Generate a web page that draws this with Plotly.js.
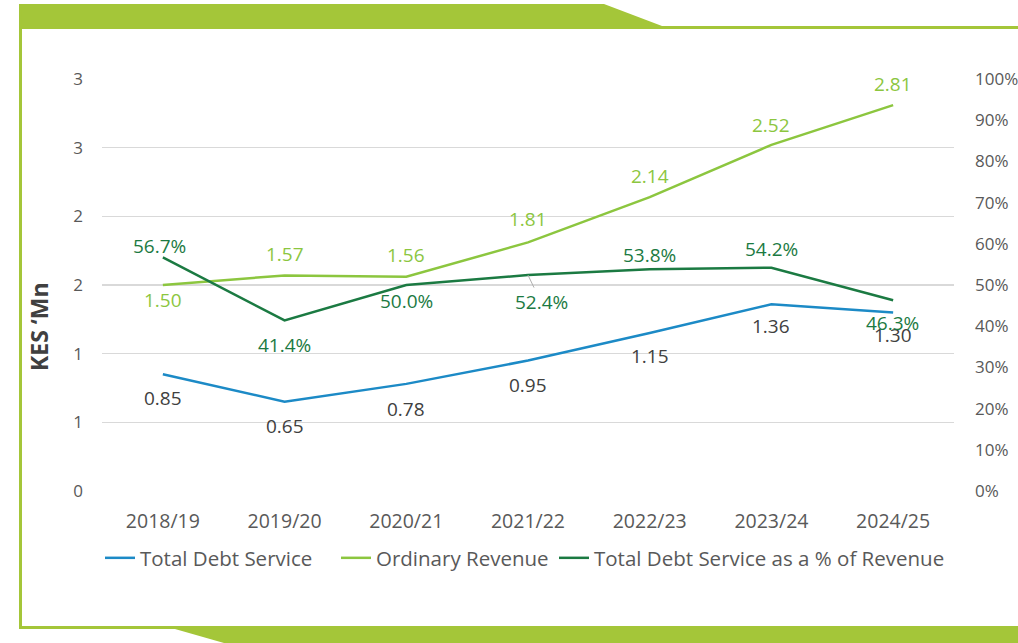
<!DOCTYPE html>
<html>
<head>
<meta charset="utf-8">
<script src="https://cdn.plot.ly/plotly-3.0.1.min.js"></script>
<style>html,body{margin:0;padding:0;background:#fff;}#chart{width:1018px;height:643px;}</style>
</head>
<body>
<div id="chart"></div>
<script>
const years = ["2018/19","2019/20","2020/21","2021/22","2022/23","2023/24","2024/25"];
const totalDebtService = [0.85, 0.65, 0.78, 0.95, 1.15, 1.36, 1.30];
const ordinaryRevenue = [1.50, 1.57, 1.56, 1.81, 2.14, 2.52, 2.81];
const debtServicePct = [56.7, 41.4, 50.0, 52.4, 53.8, 54.2, 46.3];
const leftTickVals = [0, 0.5, 1, 1.5, 2, 2.5, 3];
const leftTickText = ["0", "1", "1", "2", "2", "3", "3"];
const rightTickVals = [0, 10, 20, 30, 40, 50, 60, 70, 80, 90, 100];
const rightTickText = ["0%", "10%", "20%", "30%", "40%", "50%", "60%", "70%", "80%", "90%", "100%"];

const W = 1018, H = 643;
const M = {l: 102, r: 64, t: 79, b: 152};
const PW = W - M.l - M.r, PH = H - M.t - M.b;
const px = x => (x - M.l) / PW;
const py = y => (H - M.b - y) / PH;
function path(pts) {
  return pts.map((p, i) => (i ? "L" : "M") + px(p[0]).toFixed(5) + "," + py(p[1]).toFixed(5)).join(" ") + " Z";
}

const blue = "#1c8ac6", lgreen = "#8cc63f", dgreen = "#1b7a42", frame = "#a4c639";
const font = "Open Sans, sans-serif";

// label placement (style): pixel shifts of each data label from its point
const blueShiftY = [-24, -24, -25, -24, -23, -22, -23];
const lgreenShiftY = [-15, 21, 22, 23, 21, 20, 21];
const dgreenShiftY = [11, -25, -16, -27, 14, 19, -23];
const dgreenShiftX = [-3, 0, 0, 13, 0, 0, -1];

const traces = [
  {x: years, y: totalDebtService, name: "Total Debt Service", type: "scatter", mode: "lines",
   line: {color: blue, width: 2.5}, legend: "legend"},
  {x: years, y: ordinaryRevenue, name: "Ordinary Revenue", type: "scatter", mode: "lines",
   line: {color: lgreen, width: 2.5}, legend: "legend2"},
  {x: years, y: debtServicePct, name: "Total Debt Service as a % of Revenue", type: "scatter", mode: "lines",
   yaxis: "y2", line: {color: dgreen, width: 2.5}, legend: "legend3"}
];

const annotations = [];
years.forEach((yr, i) => {
  annotations.push({x: yr, y: totalDebtService[i], xref: "x", yref: "y", text: totalDebtService[i].toFixed(2),
    showarrow: false, yshift: blueShiftY[i], xanchor: "center", yanchor: "middle",
    font: {family: font, size: 19, color: "#404040"}});
  annotations.push({x: yr, y: ordinaryRevenue[i], xref: "x", yref: "y", text: ordinaryRevenue[i].toFixed(2),
    showarrow: false, yshift: lgreenShiftY[i], xanchor: "center", yanchor: "middle",
    font: {family: font, size: 19, color: lgreen}});
  const a = {x: yr, y: debtServicePct[i], xref: "x", yref: "y2", text: debtServicePct[i].toFixed(1) + "%",
    xanchor: "center", yanchor: "middle", font: {family: font, size: 19, color: dgreen}};
  if (i === 3) {
    Object.assign(a, {showarrow: true, arrowhead: 0, arrowwidth: 1, arrowcolor: "#b0b0b0",
      ax: dgreenShiftX[i], ay: -dgreenShiftY[i], standoff: 0, startstandoff: 0});
  } else {
    Object.assign(a, {showarrow: false, yshift: dgreenShiftY[i], xshift: dgreenShiftX[i]});
  }
  annotations.push(a);
});
annotations.push({text: "<b>KES ‘Mn</b>", xref: "paper", yref: "paper", x: px(39), y: py(327), textangle: -90,
  showarrow: false, font: {family: font, size: 23, color: "#404040"}, xanchor: "center", yanchor: "middle"});

function legendAt(xpx) {
  return {orientation: "h", x: px(xpx), xanchor: "left", y: py(558), yanchor: "middle",
    font: {family: font, size: 20.5, color: "#595959"}, itemwidth: 30, bgcolor: "rgba(0,0,0,0)"};
}

const layout = {
  width: W, height: H,
  margin: M,
  paper_bgcolor: "#fff", plot_bgcolor: "#fff",
  font: {family: font, color: "#595959", size: 17},
  showlegend: true,
  legend: legendAt(100),
  legend2: legendAt(336),
  legend3: legendAt(554),
  xaxis: {
    type: "category", range: [-0.5, 6.5], showgrid: false, zeroline: false, showline: false,
    ticks: "", tickfont: {family: font, size: 19.5, color: "#595959"}, ticklabelstandoff: 16
  },
  yaxis: {
    range: [0, 3], tickvals: leftTickVals, ticktext: leftTickText,
    showgrid: true, gridcolor: "#d9d9d9", gridwidth: 1.5, zeroline: false, showline: false,
    ticks: "", tickfont: {family: font, size: 17, color: "#595959"}, ticklabelstandoff: 18
  },
  yaxis2: {
    overlaying: "y", side: "right", range: [0, 100], tickvals: rightTickVals, ticktext: rightTickText,
    showgrid: false, zeroline: false, showline: false,
    ticks: "", tickfont: {family: font, size: 17, color: "#595959"}, ticklabelstandoff: 20
  },
  annotations: annotations,
  shapes: [
    {type: "path", xref: "paper", yref: "paper", layer: "above", line: {width: 0}, fillcolor: frame,
     path: path([[19,4],[604,4],[662,26],[1018,26],[1018,29],[19,29]])},
    {type: "path", xref: "paper", yref: "paper", layer: "above", line: {width: 0}, fillcolor: frame,
     path: path([[19,4],[22,4],[22,629],[19,629]])},
    {type: "path", xref: "paper", yref: "paper", layer: "above", line: {width: 0}, fillcolor: frame,
     path: path([[19,626],[1018,626],[1018,643],[224,643],[175,629],[19,629]])}
  ]
};

Plotly.newPlot("chart", traces, layout, {displayModeBar: false, staticPlot: true});
</script>
</body>
</html>
